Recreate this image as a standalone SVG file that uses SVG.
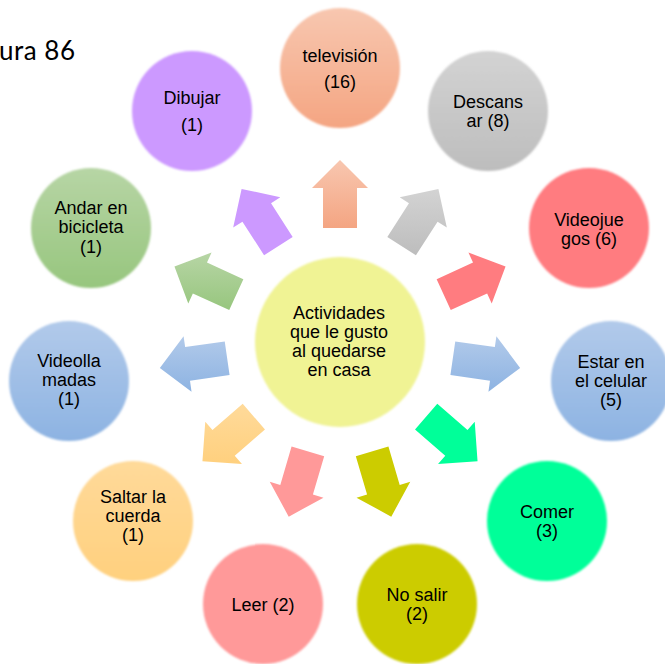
<svg xmlns="http://www.w3.org/2000/svg" width="665" height="664" viewBox="0 0 665 664">
<style>
  .lbl{font-family:"Liberation Sans",Arial,sans-serif;font-size:18px;fill:#000;text-anchor:middle}
  .fig{font-family:Lato,"Open Sans",sans-serif;font-size:26px;fill:#000}
  .c{filter:url(#soft)}
</style>
<defs>
  <filter id="soft" x="-5%" y="-5%" width="110%" height="110%"><feGaussianBlur stdDeviation="0.8"/></filter>
  <linearGradient id="gTv" x1="0" y1="0" x2="0" y2="1"><stop offset="0" stop-color="#F8C7B0"/><stop offset="1" stop-color="#F4A582"/></linearGradient>
  <linearGradient id="gGray" x1="0" y1="0" x2="0" y2="1"><stop offset="0" stop-color="#D3D3D3"/><stop offset="1" stop-color="#BDBDBD"/></linearGradient>
  <linearGradient id="gBlue" x1="0" y1="0" x2="0" y2="1"><stop offset="0" stop-color="#B2CAEA"/><stop offset="1" stop-color="#8DB3E2"/></linearGradient>
  <linearGradient id="gGreen" x1="0" y1="0" x2="0" y2="1"><stop offset="0" stop-color="#B7D5A5"/><stop offset="1" stop-color="#97C67E"/></linearGradient>
  <linearGradient id="gOrange" x1="0" y1="0" x2="0" y2="1"><stop offset="0" stop-color="#FFDA9A"/><stop offset="1" stop-color="#FFD07E"/></linearGradient>
</defs>

<text class="fig" x="-1" y="60" textLength="76">ura 86</text>

<g id="connectors">
  <polygon fill="url(#gTv)" points="323,228 323,188 312,188 340,160 368,188 357,188 357,228"/>
  <polygon fill="url(#gGray)" points="387.33,236.91 408.96,203.26 399.70,197.31 438.40,188.89 446.82,227.59 437.56,221.64 415.93,255.29"/>
  <polygon fill="#FF7C80" points="436.64,279.18 473.02,262.57 468.45,252.56 505.55,266.39 491.71,303.50 487.14,293.49 450.76,310.10"/>
  <polygon fill="url(#gBlue)" points="455.26,341.39 494.85,347.09 496.41,336.21 520.15,367.90 488.45,391.63 490.01,380.75 450.42,375.05"/>
  <polygon fill="#00FF99" points="437.29,403.80 467.52,430.00 474.73,421.69 477.55,461.18 438.05,464.01 445.26,455.70 415.03,429.50"/>
  <polygon fill="#CCCC00" points="388.43,446.59 399.70,484.97 410.26,481.87 391.27,516.63 356.52,497.65 367.08,494.55 355.81,456.17"/>
  <polygon fill="#FF9999" points="291.57,446.59 280.30,484.97 269.74,481.87 288.73,516.63 323.48,497.65 312.92,494.55 324.19,456.17"/>
  <polygon fill="url(#gOrange)" points="242.71,403.80 212.48,430.00 205.27,421.69 202.45,461.18 241.95,464.01 234.74,455.70 264.97,429.50"/>
  <polygon fill="url(#gBlue)" points="224.74,341.39 185.15,347.09 183.59,336.21 159.85,367.90 191.55,391.63 189.99,380.75 229.58,375.05"/>
  <polygon fill="url(#gGreen)" points="243.36,279.18 206.98,262.57 211.55,252.56 174.45,266.39 188.29,303.50 192.86,293.49 229.24,310.10"/>
  <polygon fill="#CC99FF" points="292.67,236.91 271.04,203.26 280.30,197.31 241.60,188.89 233.18,227.59 242.44,221.64 264.07,255.29"/>
</g>

<g id="center">
  <circle class="c" cx="340" cy="342" r="85" fill="#F0F394"/>
  <text class="lbl"><tspan x="339" y="319">Actividades</tspan><tspan x="339" y="338">que le gusto</tspan><tspan x="339" y="357">al quedarse</tspan><tspan x="339" y="376">en casa</tspan></text>
</g>

<g id="television">
  <circle class="c" cx="340" cy="68" r="60" fill="url(#gTv)"/>
  <text class="lbl"><tspan x="340" y="62">televisión</tspan><tspan x="340" y="88">(16)</tspan></text>
</g>

<g id="descansar">
  <circle class="c" cx="488" cy="111" r="60" fill="url(#gGray)"/>
  <text class="lbl"><tspan x="488" y="108">Descans</tspan><tspan x="488" y="127">ar (8)</tspan></text>
</g>

<g id="videojuegos">
  <circle class="c" cx="589" cy="228" r="60" fill="#FF7C80"/>
  <text class="lbl"><tspan x="589" y="226">Videojue</tspan><tspan x="589" y="245">gos (6)</tspan></text>
</g>

<g id="celular">
  <circle class="c" cx="611" cy="381" r="60" fill="url(#gBlue)"/>
  <text class="lbl"><tspan x="611" y="368">Estar en</tspan><tspan x="611" y="387">el celular</tspan><tspan x="611" y="406">(5)</tspan></text>
</g>

<g id="comer">
  <circle class="c" cx="547" cy="521" r="60" fill="#00FF99"/>
  <text class="lbl"><tspan x="547" y="518">Comer</tspan><tspan x="547" y="537">(3)</tspan></text>
</g>

<g id="nosalir">
  <circle class="c" cx="417" cy="604" r="60" fill="#CCCC00"/>
  <text class="lbl"><tspan x="417" y="601">No salir</tspan><tspan x="417" y="620">(2)</tspan></text>
</g>

<g id="leer">
  <circle class="c" cx="263" cy="604" r="60" fill="#FF9999"/>
  <text class="lbl" x="263" y="611">Leer (2)</text>
</g>

<g id="saltar">
  <circle class="c" cx="133" cy="521" r="60" fill="url(#gOrange)"/>
  <text class="lbl"><tspan x="133" y="503">Saltar la</tspan><tspan x="133" y="522">cuerda</tspan><tspan x="133" y="541">(1)</tspan></text>
</g>

<g id="videollamadas">
  <circle class="c" cx="69" cy="381" r="60" fill="url(#gBlue)"/>
  <text class="lbl"><tspan x="69" y="367">Videolla</tspan><tspan x="69" y="386">madas</tspan><tspan x="69" y="405">(1)</tspan></text>
</g>

<g id="bicicleta">
  <circle class="c" cx="91" cy="228" r="60" fill="url(#gGreen)"/>
  <text class="lbl"><tspan x="91" y="214">Andar en</tspan><tspan x="91" y="233">bicicleta</tspan><tspan x="91" y="253">(1)</tspan></text>
</g>

<g id="dibujar">
  <circle class="c" cx="192" cy="111" r="60" fill="#CC99FF"/>
  <text class="lbl"><tspan x="192" y="104">Dibujar</tspan><tspan x="192" y="131">(1)</tspan></text>
</g>
</svg>
